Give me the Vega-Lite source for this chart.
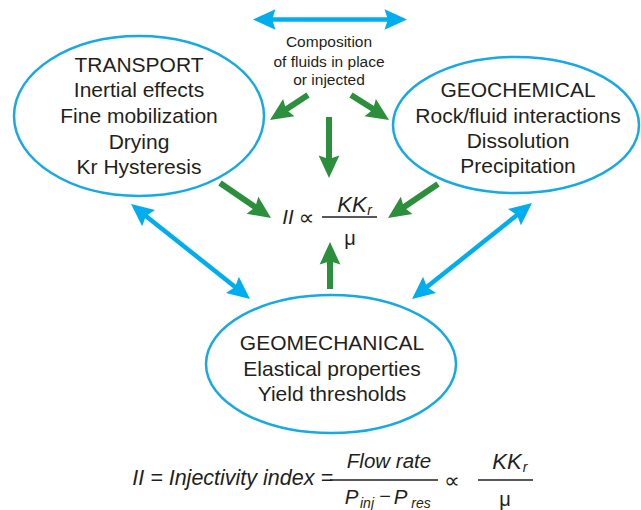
{
  "$schema": "https://vega.github.io/schema/vega-lite/v6.json",
  "width": 641,
  "height": 510,
  "padding": 0,
  "autosize": {"type": "none"},
  "background": "white",
  "config": {"view": {"stroke": null}},
  "datasets": {
    "ellipses": [
      {"node": "TRANSPORT", "x": 139, "y": 116},
      {"node": "GEOCHEMICAL", "x": 516, "y": 125},
      {"node": "GEOMECHANICAL", "x": 331, "y": 364}
    ],
    "shafts": [
      {"arrow": "G1", "kind": "green", "x": 308, "y": 95, "x2": 282.5, "y2": 111.8},
      {"arrow": "G2", "kind": "green", "x": 351, "y": 95, "x2": 377.5, "y2": 111.8},
      {"arrow": "G3", "kind": "green", "x": 329, "y": 117, "x2": 329, "y2": 162},
      {"arrow": "G4", "kind": "green", "x": 220, "y": 183, "x2": 258.6, "y2": 209.5},
      {"arrow": "G5", "kind": "green", "x": 438, "y": 184, "x2": 400.4, "y2": 209.6},
      {"arrow": "G6", "kind": "green", "x": 330, "y": 289, "x2": 330, "y2": 257},
      {"arrow": "B0", "kind": "blue", "x": 268, "y": 19.5, "x2": 392, "y2": 19.5},
      {"arrow": "B1", "kind": "blue", "x": 142.7, "y": 213.4, "x2": 238.3, "y2": 289.6},
      {"arrow": "B2", "kind": "blue", "x": 520.3, "y": 212.4, "x2": 423.7, "y2": 289.6}
    ],
    "heads": [
      {"arrow": "G1", "kind": "green", "x": 270, "y": 120, "angle": -123.3},
      {"arrow": "G2", "kind": "green", "x": 389, "y": 120, "angle": 123.3},
      {"arrow": "G3", "kind": "green", "x": 329, "y": 178, "angle": 180},
      {"arrow": "G4", "kind": "green", "x": 271, "y": 218, "angle": 124.5},
      {"arrow": "G5", "kind": "green", "x": 388, "y": 218, "angle": -124.2},
      {"arrow": "G6", "kind": "green", "x": 330, "y": 242, "angle": 0},
      {"arrow": "B0", "kind": "blue", "x": 253, "y": 19.5, "angle": -90},
      {"arrow": "B0", "kind": "blue", "x": 407, "y": 19.5, "angle": 90},
      {"arrow": "B1", "kind": "blue", "x": 131, "y": 204, "angle": -51.4},
      {"arrow": "B1", "kind": "blue", "x": 250, "y": 299, "angle": 128.6},
      {"arrow": "B2", "kind": "blue", "x": 532, "y": 203, "angle": 51.3},
      {"arrow": "B2", "kind": "blue", "x": 412, "y": 299, "angle": -128.7}
    ],
    "texts": [
      {"style": "node", "text": "TRANSPORT", "x": 139, "y": 66},
      {"style": "node", "text": "Inertial effects", "x": 139, "y": 91},
      {"style": "node", "text": "Fine mobilization", "x": 139, "y": 117},
      {"style": "node", "text": "Drying", "x": 139, "y": 143},
      {"style": "node", "text": "Kr Hysteresis", "x": 139, "y": 168},
      {"style": "node", "text": "GEOCHEMICAL", "x": 518, "y": 91},
      {"style": "node", "text": "Rock/fluid interactions", "x": 518, "y": 117},
      {"style": "node", "text": "Dissolution", "x": 518, "y": 142},
      {"style": "node", "text": "Precipitation", "x": 518, "y": 167},
      {"style": "node", "text": "GEOMECHANICAL", "x": 332, "y": 344},
      {"style": "node", "text": "Elastical properties", "x": 332, "y": 370},
      {"style": "node", "text": "Yield thresholds", "x": 332, "y": 395},
      {"style": "comp", "text": "Composition", "x": 329, "y": 42},
      {"style": "comp", "text": "of fluids in place", "x": 329, "y": 62},
      {"style": "comp", "text": "or injected", "x": 329, "y": 80},
      {"style": "ital", "text": "II", "x": 288, "y": 218},
      {"style": "ital", "text": "Flow rate", "x": 389, "y": 462},
      {"style": "ital", "text": "P", "x": 351.5, "y": 498},
      {"style": "ital", "text": "P", "x": 400.5, "y": 498},
      {"style": "itallg", "text": "KK", "x": 352, "y": 205},
      {"style": "itallg", "text": "KK", "x": 507, "y": 462},
      {"style": "sub", "text": "r", "x": 369.5, "y": 211},
      {"style": "sub", "text": "r", "x": 525, "y": 468},
      {"style": "sub", "text": "inj", "x": 367, "y": 504},
      {"style": "sub", "text": "res", "x": 421, "y": 504},
      {"style": "plain", "text": "∝", "x": 306.5, "y": 218},
      {"style": "plain", "text": "∝", "x": 452, "y": 481},
      {"style": "mu", "text": "μ", "x": 350, "y": 239},
      {"style": "mu", "text": "μ", "x": 505, "y": 500},
      {"style": "mu", "text": "−", "x": 385, "y": 497},
      {"style": "left", "text": "II = Injectivity index =", "x": 333, "y": 479}
    ],
    "bars": [
      {"bar": "mid", "x": 322, "y": 217, "x2": 377, "y2": 217},
      {"bar": "flow", "x": 330, "y": 480, "x2": 438, "y2": 480},
      {"bar": "kk", "x": 478, "y": 480, "x2": 533, "y2": 480}
    ]
  },
  "layer": [
    {
      "data": {"name": "ellipses"},
      "transform": [{"filter": "datum.node === 'TRANSPORT'"}],
      "mark": {"type": "point", "shape": "M-1,0 A1,0.64 0 1,0 1,0 A1,0.64 0 1,0 -1,0 Z", "size": 62500, "filled": false, "stroke": "#16a9e4", "strokeWidth": 2.5, "opacity": 1},
      "encoding": {
        "x": {"field": "x", "type": "quantitative", "scale": {"domain": [0, 641], "nice": false, "zero": false}, "axis": null},
        "y": {"field": "y", "type": "quantitative", "scale": {"domain": [0, 510], "nice": false, "zero": false, "reverse": true}, "axis": null}
      }
    },
    {
      "data": {"name": "ellipses"},
      "transform": [{"filter": "datum.node === 'GEOCHEMICAL'"}],
      "mark": {"type": "point", "shape": "M-1,0 A1,0.553 0 1,0 1,0 A1,0.553 0 1,0 -1,0 Z", "size": 60516, "filled": false, "stroke": "#16a9e4", "strokeWidth": 2.5, "opacity": 1},
      "encoding": {
        "x": {"field": "x", "type": "quantitative", "scale": {"domain": [0, 641], "nice": false, "zero": false}, "axis": null},
        "y": {"field": "y", "type": "quantitative", "scale": {"domain": [0, 510], "nice": false, "zero": false, "reverse": true}, "axis": null}
      }
    },
    {
      "data": {"name": "ellipses"},
      "transform": [{"filter": "datum.node === 'GEOMECHANICAL'"}],
      "mark": {"type": "point", "shape": "M-1,0 A1,0.552 0 1,0 1,0 A1,0.552 0 1,0 -1,0 Z", "size": 62500, "filled": false, "stroke": "#16a9e4", "strokeWidth": 2.5, "opacity": 1},
      "encoding": {
        "x": {"field": "x", "type": "quantitative", "scale": {"domain": [0, 641], "nice": false, "zero": false}, "axis": null},
        "y": {"field": "y", "type": "quantitative", "scale": {"domain": [0, 510], "nice": false, "zero": false, "reverse": true}, "axis": null}
      }
    },
    {
      "data": {"name": "shafts"},
      "mark": {"type": "rule", "strokeCap": "butt"},
      "encoding": {
        "x": {"field": "x", "type": "quantitative", "scale": {"domain": [0, 641], "nice": false, "zero": false}, "axis": null},
        "y": {"field": "y", "type": "quantitative", "scale": {"domain": [0, 510], "nice": false, "zero": false, "reverse": true}, "axis": null},
        "x2": {"field": "x2"},
        "y2": {"field": "y2"},
        "color": {"field": "kind", "type": "nominal", "scale": {"domain": ["green", "blue"], "range": ["#2b8f3c", "#00aeef"]}, "legend": null},
        "strokeWidth": {"field": "kind", "type": "nominal", "scale": {"domain": ["green", "blue"], "range": [6, 4.5]}, "legend": null}
      }
    },
    {
      "data": {"name": "heads"},
      "mark": {"type": "point", "shape": "M0,0 L0.46,1 L0,0.85 L-0.46,1 Z", "size": 2025, "filled": true, "opacity": 1, "strokeWidth": 0},
      "encoding": {
        "x": {"field": "x", "type": "quantitative", "scale": {"domain": [0, 641], "nice": false, "zero": false}, "axis": null},
        "y": {"field": "y", "type": "quantitative", "scale": {"domain": [0, 510], "nice": false, "zero": false, "reverse": true}, "axis": null},
        "angle": {"field": "angle", "type": "quantitative", "scale": null},
        "color": {"field": "kind", "type": "nominal", "scale": {"domain": ["green", "blue"], "range": ["#2b8f3c", "#00aeef"]}, "legend": null}
      }
    },
    {
      "data": {"name": "bars"},
      "mark": {"type": "rule", "color": "#231f20", "strokeWidth": 1.5},
      "encoding": {
        "x": {"field": "x", "type": "quantitative", "scale": {"domain": [0, 641], "nice": false, "zero": false}, "axis": null},
        "y": {"field": "y", "type": "quantitative", "scale": {"domain": [0, 510], "nice": false, "zero": false, "reverse": true}, "axis": null},
        "x2": {"field": "x2"},
        "y2": {"field": "y2"}
      }
    },
    {
      "data": {"name": "texts"},
      "transform": [{"filter": "datum.style === 'node'"}],
      "mark": {"type": "text", "font": "Liberation Sans", "fontSize": 21, "color": "#231f20", "align": "center", "baseline": "middle"},
      "encoding": {
        "x": {"field": "x", "type": "quantitative", "scale": {"domain": [0, 641], "nice": false, "zero": false}, "axis": null},
        "y": {"field": "y", "type": "quantitative", "scale": {"domain": [0, 510], "nice": false, "zero": false, "reverse": true}, "axis": null},
        "text": {"field": "text"}
      }
    },
    {
      "data": {"name": "texts"},
      "transform": [{"filter": "datum.style === 'comp'"}],
      "mark": {"type": "text", "font": "Liberation Sans", "fontSize": 15.5, "color": "#231f20", "align": "center", "baseline": "middle"},
      "encoding": {
        "x": {"field": "x", "type": "quantitative", "scale": {"domain": [0, 641], "nice": false, "zero": false}, "axis": null},
        "y": {"field": "y", "type": "quantitative", "scale": {"domain": [0, 510], "nice": false, "zero": false, "reverse": true}, "axis": null},
        "text": {"field": "text"}
      }
    },
    {
      "data": {"name": "texts"},
      "transform": [{"filter": "datum.style === 'ital'"}],
      "mark": {"type": "text", "font": "Liberation Sans", "fontStyle": "italic", "fontSize": 20.5, "color": "#231f20", "align": "center", "baseline": "middle"},
      "encoding": {
        "x": {"field": "x", "type": "quantitative", "scale": {"domain": [0, 641], "nice": false, "zero": false}, "axis": null},
        "y": {"field": "y", "type": "quantitative", "scale": {"domain": [0, 510], "nice": false, "zero": false, "reverse": true}, "axis": null},
        "text": {"field": "text"}
      }
    },
    {
      "data": {"name": "texts"},
      "transform": [{"filter": "datum.style === 'itallg'"}],
      "mark": {"type": "text", "font": "Liberation Sans", "fontStyle": "italic", "fontSize": 22, "color": "#231f20", "align": "center", "baseline": "middle"},
      "encoding": {
        "x": {"field": "x", "type": "quantitative", "scale": {"domain": [0, 641], "nice": false, "zero": false}, "axis": null},
        "y": {"field": "y", "type": "quantitative", "scale": {"domain": [0, 510], "nice": false, "zero": false, "reverse": true}, "axis": null},
        "text": {"field": "text"}
      }
    },
    {
      "data": {"name": "texts"},
      "transform": [{"filter": "datum.style === 'sub'"}],
      "mark": {"type": "text", "font": "Liberation Sans", "fontStyle": "italic", "fontSize": 14, "color": "#231f20", "align": "center", "baseline": "middle"},
      "encoding": {
        "x": {"field": "x", "type": "quantitative", "scale": {"domain": [0, 641], "nice": false, "zero": false}, "axis": null},
        "y": {"field": "y", "type": "quantitative", "scale": {"domain": [0, 510], "nice": false, "zero": false, "reverse": true}, "axis": null},
        "text": {"field": "text"}
      }
    },
    {
      "data": {"name": "texts"},
      "transform": [{"filter": "datum.style === 'plain'"}],
      "mark": {"type": "text", "font": "DejaVu Sans", "fontSize": 22, "color": "#231f20", "align": "center", "baseline": "middle"},
      "encoding": {
        "x": {"field": "x", "type": "quantitative", "scale": {"domain": [0, 641], "nice": false, "zero": false}, "axis": null},
        "y": {"field": "y", "type": "quantitative", "scale": {"domain": [0, 510], "nice": false, "zero": false, "reverse": true}, "axis": null},
        "text": {"field": "text"}
      }
    },
    {
      "data": {"name": "texts"},
      "transform": [{"filter": "datum.style === 'mu'"}],
      "mark": {"type": "text", "font": "Liberation Sans", "fontSize": 20, "color": "#231f20", "align": "center", "baseline": "middle"},
      "encoding": {
        "x": {"field": "x", "type": "quantitative", "scale": {"domain": [0, 641], "nice": false, "zero": false}, "axis": null},
        "y": {"field": "y", "type": "quantitative", "scale": {"domain": [0, 510], "nice": false, "zero": false, "reverse": true}, "axis": null},
        "text": {"field": "text"}
      }
    },
    {
      "data": {"name": "texts"},
      "transform": [{"filter": "datum.style === 'left'"}],
      "mark": {"type": "text", "font": "Liberation Sans", "fontStyle": "italic", "fontSize": 21.5, "color": "#231f20", "align": "right", "baseline": "middle"},
      "encoding": {
        "x": {"field": "x", "type": "quantitative", "scale": {"domain": [0, 641], "nice": false, "zero": false}, "axis": null},
        "y": {"field": "y", "type": "quantitative", "scale": {"domain": [0, 510], "nice": false, "zero": false, "reverse": true}, "axis": null},
        "text": {"field": "text"}
      }
    }
  ]
}
